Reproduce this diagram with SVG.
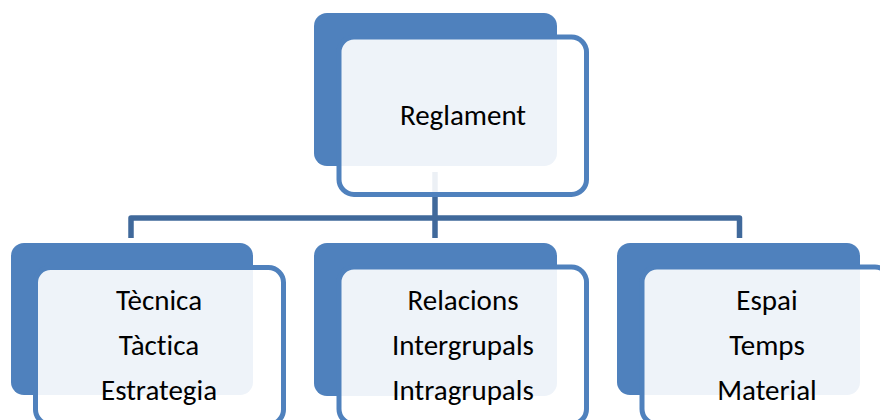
<svg xmlns="http://www.w3.org/2000/svg" width="880" height="420" viewBox="0 0 880 420">
<style>
.bg{fill:#4f81bd;}
.fg{fill:#ffffff;fill-opacity:0.9;stroke:#4f81bd;stroke-width:5;}
.conn{fill:none;stroke:#40699b;stroke-width:5.5;stroke-linejoin:round;}
.lbl{font-family:Carlito,Lato,"Liberation Sans",sans-serif;font-size:29px;fill:#000;text-anchor:middle;font-variant-ligatures:none;}
</style>
<rect width="880" height="420" fill="#ffffff"/>
<g id="connectors">
<path class="conn" d="M435,172 V238"/>
<path class="conn" d="M131,238 V218 H739.5 V238"/>
</g>
<g id="node-reglament">
<rect class="bg" x="314" y="13" width="243" height="153" rx="13"/>
<rect class="fg" x="339" y="37" width="247.5" height="157.5" rx="15"/>
<text class="lbl" x="463" y="125">Reglament</text>
</g>
<g id="node-tecnica">
<rect class="bg" x="11" y="243" width="242" height="152" rx="13"/>
<rect class="fg" x="35.5" y="267.5" width="248" height="157" rx="15"/>
<text class="lbl" x="159" y="309.5">Tècnica</text>
<text class="lbl" x="159" y="355">Tàctica</text>
<text class="lbl" x="159" y="400">Estrategia</text>
</g>
<g id="node-relacions">
<rect class="bg" x="314" y="243" width="243" height="153" rx="13"/>
<rect class="fg" x="339" y="267" width="247.5" height="157" rx="15"/>
<text class="lbl" x="463" y="309.5">Relacions</text>
<text class="lbl" x="463" y="355">Intergrupals</text>
<text class="lbl" x="463" y="400">Intragrupals</text>
</g>
<g id="node-espai">
<rect class="bg" x="617" y="243" width="243" height="152" rx="13"/>
<rect class="fg" x="642" y="267" width="248" height="157" rx="15"/>
<text class="lbl" x="767" y="309.5">Espai</text>
<text class="lbl" x="767" y="355">Temps</text>
<text class="lbl" x="767" y="400">Material</text>
</g>
</svg>
